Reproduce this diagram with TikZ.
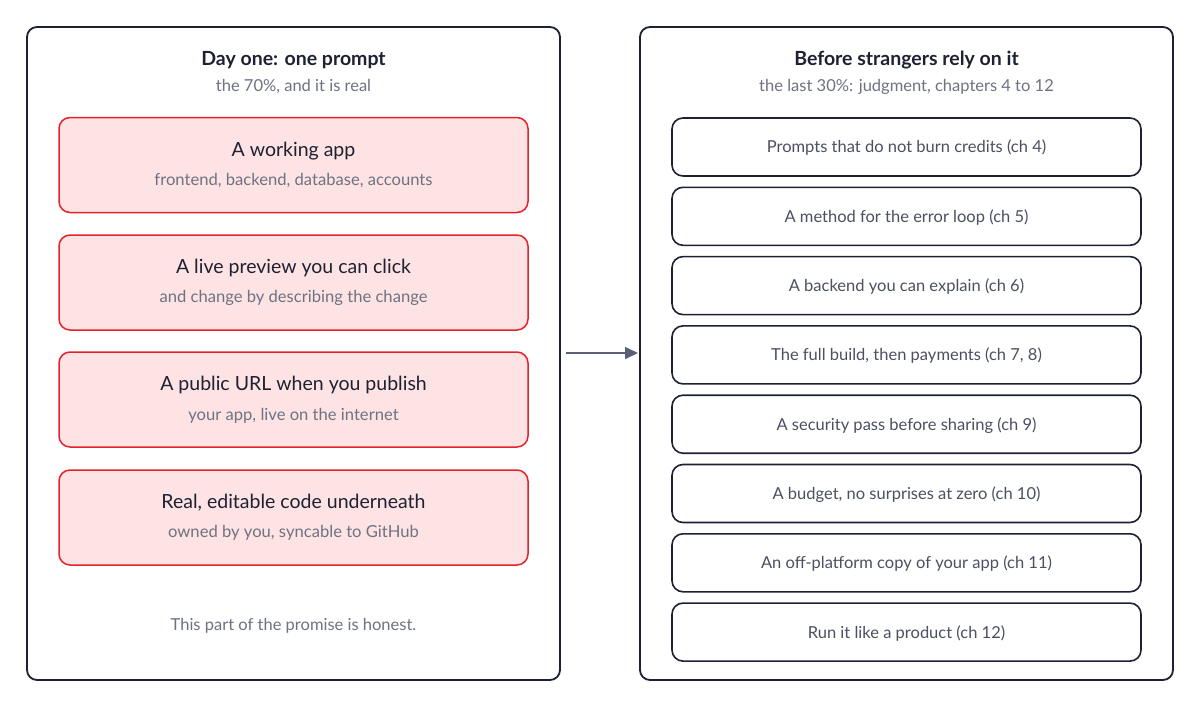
\documentclass[tikz,border=0pt]{standalone}
\usepackage{fontspec}
\setmainfont{Lato}
\usetikzlibrary{positioning,arrows.meta}

\definecolor{ink}{HTML}{1E2132}
\definecolor{muted}{HTML}{6E7282}
\definecolor{boxtext}{HTML}{4B5062}
\definecolor{warnfill}{HTML}{FDE3E3}
\definecolor{warnline}{HTML}{E5222B}
\definecolor{arrowgray}{HTML}{5A6076}

\tikzset{
  panel/.style={draw=ink, line width=1.8pt, rounded corners=10pt, fill=white,
    minimum width=533pt, minimum height=653pt},
  panel title/.style={text=ink, font=\fontsize{19.5}{23}\selectfont\bfseries},
  panel sub/.style={text=muted, font=\fontsize{16.5}{19}\selectfont},
  gain/.style={draw=warnline, line width=1.5pt, rounded corners=11pt, fill=warnfill,
    minimum width=469pt, minimum height=95pt, align=center, text=ink},
  chapter/.style={draw=ink, line width=1.6pt, rounded corners=11pt, fill=white,
    minimum width=469pt, minimum height=58pt, text=boxtext,
    font=\fontsize{16.5}{19}\selectfont},
}
\newcommand{\gaintext}[2]{{\fontsize{19.5}{23}\selectfont #1}\\[13pt]
  {\color{muted}\fontsize{16.6}{19}\selectfont #2}}

\begin{document}
\begin{tikzpicture}[x=1pt, y=-1pt]
  \useasboundingbox (0,0) rectangle (1200,707);

  \node[panel] (dayone) at (293.5,353.5) {};
  \node[panel] (later) at (906.5,353.5) {};

  \node[panel title] (dayone-title) at (293.5,60.5) {Day one: one prompt};
  \node[panel sub] (dayone-sub) at (293.5,87) {the 70\%, and it is real};
  \node[panel title] (later-title) at (906.5,60.5) {Before strangers rely on it};
  \node[panel sub] (later-sub) at (906.5,87) {the last 30\%: judgment, chapters 4 to 12};

  \node[gain] (app) at (293.5,165)
    {\gaintext{A working app}{frontend, backend, database, accounts}};
  \node[gain] (preview) at (293.5,282.5)
    {\gaintext{A live preview you can click}{and change by describing the change}};
  \node[gain] (url) at (293.5,399.5)
    {\gaintext{A public URL when you publish}{your app, live on the internet}};
  \node[gain] (code) at (293.5,517.5)
    {\gaintext{Real, editable code underneath}{owned by you, syncable to GitHub}};

  \node[panel sub] (honest) at (293.5,626) {This part of the promise is honest.};

  \foreach \txt [count=\i from 0] in {
      Prompts that do not burn credits (ch 4),
      A method for the error loop (ch 5),
      A backend you can explain (ch 6),
      {The full build, then payments (ch 7, 8)},
      A security pass before sharing (ch 9),
      {A budget, no surprises at zero (ch 10)},
      An off-platform copy of your app (ch 11),
      Run it like a product (ch 12)}
    \node[chapter, text depth=1pt] (ch\i) at (906.5,{147+69.3*\i}) {\txt};

  \coordinate (gap-start) at (566,353);
  \coordinate (gap-end) at (638,353);
  \draw[arrowgray, line width=1.6pt, -{Triangle[length=13pt, width=12pt]}]
    (gap-start) -- (gap-end);
\end{tikzpicture}
\end{document}
